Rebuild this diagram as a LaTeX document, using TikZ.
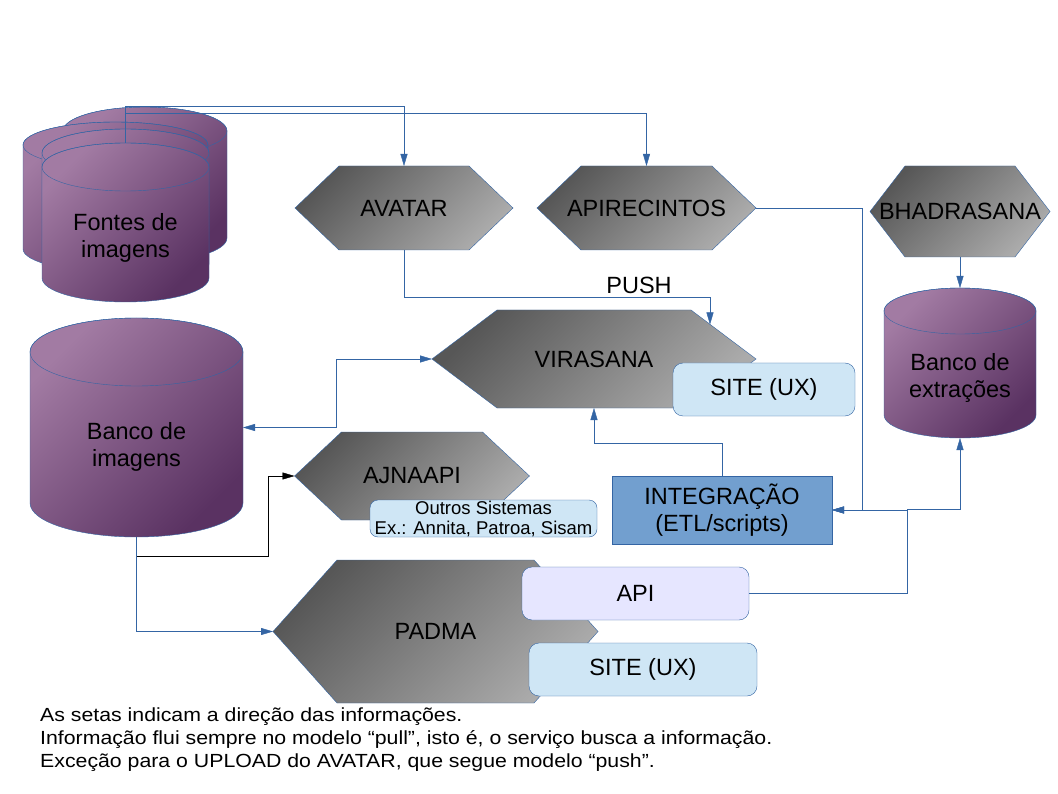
\documentclass[tikz,border=0pt]{standalone}
\usepackage{fontspec}
\setmainfont{Liberation Sans}
\usepackage{graphicx}
\usetikzlibrary{shapes, arrows.meta, calc, backgrounds}

\definecolor{lineblue}{HTML}{3465A4}
\definecolor{hexdark}{HTML}{575757}
\definecolor{hexlight}{HTML}{ABABAB}
\definecolor{drumlight}{HTML}{A27BA3}
\definecolor{drumdark}{HTML}{5A3262}
\definecolor{siteblue}{HTML}{CFE6F5}
\definecolor{apilav}{HTML}{E6E6FF}
\definecolor{integfill}{HTML}{729FCF}

% cylinder drawn behind its node: node name, radius of the end ellipse
\newcommand{\drum}[2]{%
    \begin{pgfonlayer}{background}
        \path[drumfill] let \p1=(#1.north west), \p2=(#1.south east), \n1={(\x2-\x1)/2} in
            (\x1,\y1-#2pt) -- (\x1,\y2+#2pt)
            arc[start angle=180, end angle=360, x radius=\n1, y radius=#2pt]
            -- (\x2,\y1-#2pt)
            arc[start angle=0, end angle=180, x radius=\n1, y radius=#2pt] -- cycle;
        \draw[lineblue] let \p1=(#1.north west), \p2=(#1.south east), \n1={(\x2-\x1)/2} in
            (\x1+\n1,\y1-#2pt) ellipse[x radius=\n1, y radius=#2pt];
    \end{pgfonlayer}}
% hexagon drawn behind its node: node name, horizontal depth of the points
\newcommand{\hexa}[2]{%
    \begin{pgfonlayer}{background}
        \path[hexfill] (#1.west) -- ($(#1.north west)+(#2,0)$) -- ($(#1.north east)+(-#2,0)$)
            -- (#1.east) -- ($(#1.south east)+(-#2,0)$) -- ($(#1.south west)+(#2,0)$) -- cycle;
    \end{pgfonlayer}}
\newcommand{\wide}[1]{\scalebox{1.12}[1]{#1}}

\tikzset{
    labelfont/.style={font=\fontsize{23.5}{27}\selectfont},
    drumbox/.style={inner sep=0pt, outer sep=0pt},
    drumtext/.style={labelfont, align=center, inner sep=0pt},
    drumfill/.style={draw=lineblue, top color=drumlight, bottom color=drumdark, shading angle=45},
    hexbox/.style={inner sep=0pt, outer sep=0pt, labelfont},
    hexfill/.style={draw=lineblue, top color=hexdark, bottom color=hexlight, shading angle=45},
    sitebox/.style={draw=lineblue, fill=siteblue, rounded corners=10pt, inner sep=0pt, outer sep=0pt, labelfont},
}

\begin{document}
\begin{tikzpicture}[x=1pt, y=-1pt, >={Triangle[length=12pt, width=7pt]}, line width=1pt]
    \useasboundingbox (0,0) rectangle (1058,794);
    \begin{pgfonlayer}{background}
        \fill[white] (0,0) rectangle (1058,794);
    \end{pgfonlayer}

    % Databases
    \node[drumbox, minimum width=164, minimum height=155] (fontesD) at (145,184.5) {};
    \drum{fontesD}{24}
    \node[drumbox, minimum width=185, minimum height=150] (fontesC) at (115.5,197) {};
    \drum{fontesC}{23}
    \node[drumbox, minimum width=167, minimum height=159] (fontesB) at (125.5,208.5) {};
    \drum{fontesB}{24}
    \node[drumbox, minimum width=167, minimum height=159, label={[drumtext, yshift=-15pt]center:Fontes de\\imagens}] (fontes) at (125.5,222.5) {};
    \drum{fontes}{24}
    \node[drumbox, minimum width=213, minimum height=219, label={[drumtext, yshift=-19pt]center:Banco de\\imagens}] (banco) at (136.5,427.5) {};
    \drum{banco}{34}
    \node[drumbox, minimum width=152, minimum height=150, label={[drumtext, yshift=-15pt]center:Banco de\\extrações}] (extracoes) at (960,363) {};
    \drum{extracoes}{23}

    % Services
    \node[hexbox, minimum width=218, minimum height=84] (avatar) at (404,208) {AVATAR};
    \hexa{avatar}{44}
    \node[hexbox, minimum width=219, minimum height=84] (apirecintos) at (646.5,208) {APIRECINTOS};
    \hexa{apirecintos}{44}
    \node[hexbox, minimum width=180, minimum height=91] (bhadrasana) at (960,211.5) {BHADRASANA};
    \hexa{bhadrasana}{35}
    \node[hexbox, minimum width=324, minimum height=98] (virasana) at (594,359) {VIRASANA};
    \hexa{virasana}{65}
    \node[hexbox, minimum width=235, minimum height=88] (ajnaapi) at (412,476) {AJNAAPI};
    \hexa{ajnaapi}{47}
    \node[hexbox, minimum width=325, minimum height=143] (padma) at (435.5,631.5) {PADMA};
    \hexa{padma}{64}

    % Front ends
    \node[sitebox, minimum width=182, minimum height=53] (virasite) at (764,389.5) {SITE (UX)};
    \node[sitebox, minimum width=227, minimum height=37, rounded corners=8pt, align=center, font=\fontsize{18.5}{20}\selectfont] (outros) at (483.5,518.5) {Outros Sistemas\\Ex.: Annita, Patroa, Sisam};
    \node[draw=lineblue, fill=integfill, minimum width=220, minimum height=68, inner sep=0pt, outer sep=0pt, align=center, labelfont] (integracao) at (722,510) {INTEGRAÇÃO\\(ETL/scripts)};
    \node[sitebox, fill=apilav, minimum width=227, minimum height=53] (padmaapi) at (635.5,593.5) {API};
    \node[sitebox, minimum width=228, minimum height=53] (padmasite) at (643,669.5) {SITE (UX)};

    % Arrows
    \draw[->, lineblue] (fontes.north) -- ++(0,-37) -| (avatar.north);
    \draw[->, lineblue] (fontes.north) -- ++(0,-30) -| (apirecintos.north);
    \draw[->, lineblue] (avatar.south) -- ++(0,47) -| ($(virasana.north east)+(-46,14.5)$);
    \node[labelfont] (push) at (639,285) {PUSH};
    \draw[->, lineblue] (apirecintos.east) -- ++(106,0) |- (integracao.east);
    \draw[->, lineblue] (padmaapi.east) -- ++(158,0) |- (integracao.east);
    \draw[->, lineblue] (padmaapi.east) -- ++(158,0) -- ++(0,-84) -| (extracoes.south);
    \draw[->, lineblue] (bhadrasana.south) -- (extracoes.north);
    \draw[->, lineblue] (integracao.north) -- ++(0,-33) -| (virasana.south);
    \draw[<->, lineblue] (banco.east) -- ++(93,0) |- (virasana.west);
    \draw[->, black] (banco.south) -- ++(0,19) -- ++(132,0) |- (ajnaapi.west);
    \draw[->, lineblue] (banco.south) |- (padma.west);

    % Note
    \node[anchor=north west, align=left, inner sep=0pt, font=\fontsize{19}{23}\selectfont] (nota) at (40,707.5) {\wide{As setas indicam a direção das informações.}\\\wide{Informação flui sempre no modelo “pull”, isto é, o serviço busca a informação.}\\\wide{Exceção para o UPLOAD do AVATAR, que segue modelo “push”.}};
\end{tikzpicture}
\end{document}
